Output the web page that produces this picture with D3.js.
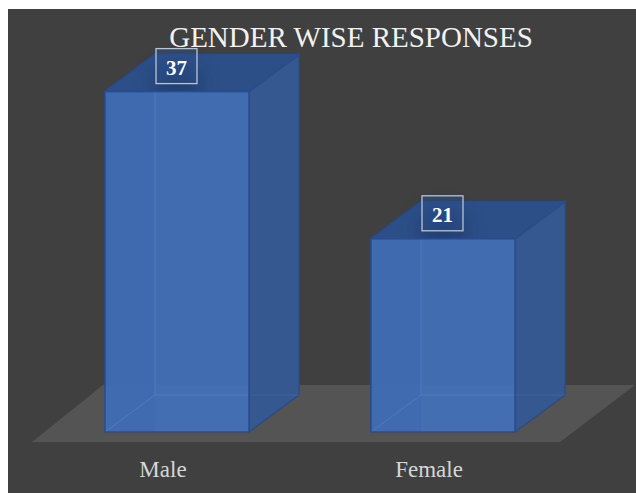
<!DOCTYPE html>
<html><head><meta charset="utf-8">
<script src="https://cdn.jsdelivr.net/npm/d3@7/dist/d3.min.js"></script>
<style>html,body{margin:0;padding:0;background:#fff;}svg{display:block;}</style>
</head><body>
<script>
const categories = ["Male", "Female"];
const values = [37, 21];
const title = "GENDER WISE RESPONSES";

const W = 636, H = 493;
const svg = d3.select("body").append("svg").attr("width", W).attr("height", H);
const defs = svg.append("defs");
defs.append("filter").attr("id","blur").attr("x","-50%").attr("y","-50%").attr("width","200%").attr("height","200%")
  .append("feGaussianBlur").attr("stdDeviation", 9);

svg.append("rect").attr("x",8).attr("y",9).attr("width",W-8).attr("height",H-9).attr("fill","#404040");

const baseY = 432;
const dx = 50, dy = -37;
const x = d3.scaleBand().domain(categories).range([38.5, 581.5]).paddingInner(0.4586).paddingOuter(0.25);
const y = d3.scaleLinear().domain([0, 40]).range([baseY, baseY - 40 * 9.2]);

// floor
const floorPts = [[32,442],[560,442],[635,385],[103,385]];
svg.append("polygon").attr("points", floorPts.map(p=>p.join(",")).join(" ")).attr("fill","#555454");

const serif = "'Liberation Serif', 'Times New Roman', serif";
const edge = "#2b4c8c";
const g = svg.append("g");
categories.forEach((c,i)=>{
  const x0 = x(c), x1 = x0 + x.bandwidth();
  const yt = y(values[i]);
  const bar = g.append("g");
  bar.append("polygon").attr("points",[[x1,yt],[x1+dx,yt+dy],[x1+dx,baseY+dy],[x1,baseY]].map(p=>p.join(",")).join(" "))
    .attr("fill","#34588f").attr("stroke",edge).attr("stroke-width",1.5);
  bar.append("polygon").attr("points",[[x0,yt],[x1,yt],[x1+dx,yt+dy],[x0+dx,yt+dy]].map(p=>p.join(",")).join(" "))
    .attr("fill","#2d4f88").attr("stroke",edge).attr("stroke-width",1.5);
  bar.append("ellipse").attr("cx", x0+dx+22).attr("cy", yt+dy+28).attr("rx",26).attr("ry",22)
    .attr("fill","#1f3866").attr("opacity",0.6).attr("filter","url(#blur)");
  bar.append("rect").attr("x",x0).attr("y",yt).attr("width",x1-x0).attr("height",baseY-yt)
    .attr("fill","#4270b9").attr("fill-opacity",0.93);
  bar.append("rect").attr("x",x0).attr("y",yt).attr("width",dx).attr("height",baseY-yt)
    .attr("fill","#3d68ae").attr("fill-opacity",0.5);
  bar.append("line").attr("x1",x0+dx).attr("y1",yt).attr("x2",x0+dx).attr("y2",baseY+dy)
    .attr("stroke","#5a84c6").attr("stroke-width",1).attr("opacity",0.6);
  bar.append("line").attr("x1",x0+dx).attr("y1",baseY+dy).attr("x2",x1).attr("y2",baseY+dy)
    .attr("stroke","#5a84c6").attr("stroke-width",1).attr("opacity",0.6);
  bar.append("line").attr("x1",x0).attr("y1",baseY).attr("x2",x0+dx).attr("y2",baseY+dy)
    .attr("stroke","#5a84c6").attr("stroke-width",1).attr("opacity",0.6);
  bar.append("line").attr("x1",x1).attr("y1",baseY+dy).attr("x2",x1+dx).attr("y2",baseY+dy)
    .attr("stroke","#4a6fa8").attr("stroke-width",1).attr("opacity",0.5);
  bar.append("rect").attr("x",x0).attr("y",yt).attr("width",x1-x0).attr("height",baseY-yt)
    .attr("fill","none").attr("stroke",edge).attr("stroke-width",1.5);
  const bx = x0 + dx + 1, by = yt + dy - 6;
  bar.append("rect").attr("x",bx).attr("y",by).attr("width",41).attr("height",35)
    .attr("fill","#2f5291").attr("fill-opacity",0.35).attr("stroke","#b9c3d6").attr("stroke-width",1.3);
  bar.append("text").attr("x",bx+20.5).attr("y",by+26).attr("text-anchor","middle")
    .attr("font-family",serif).attr("font-weight","bold")
    .attr("font-size",21).attr("fill","#ffffff").text(values[i]);
  svg.append("text").attr("x",(x0+x1)/2 - 14).attr("y",477).attr("text-anchor","middle")
    .attr("font-family",serif).attr("font-size",23)
    .attr("fill","#d6d6d6").text(c);
});

svg.append("text").attr("x",351).attr("y",47).attr("text-anchor","middle")
  .attr("font-family",serif).attr("font-size",29)
  .attr("fill","#f2f2f2").text(title);
</script>
</body></html>
